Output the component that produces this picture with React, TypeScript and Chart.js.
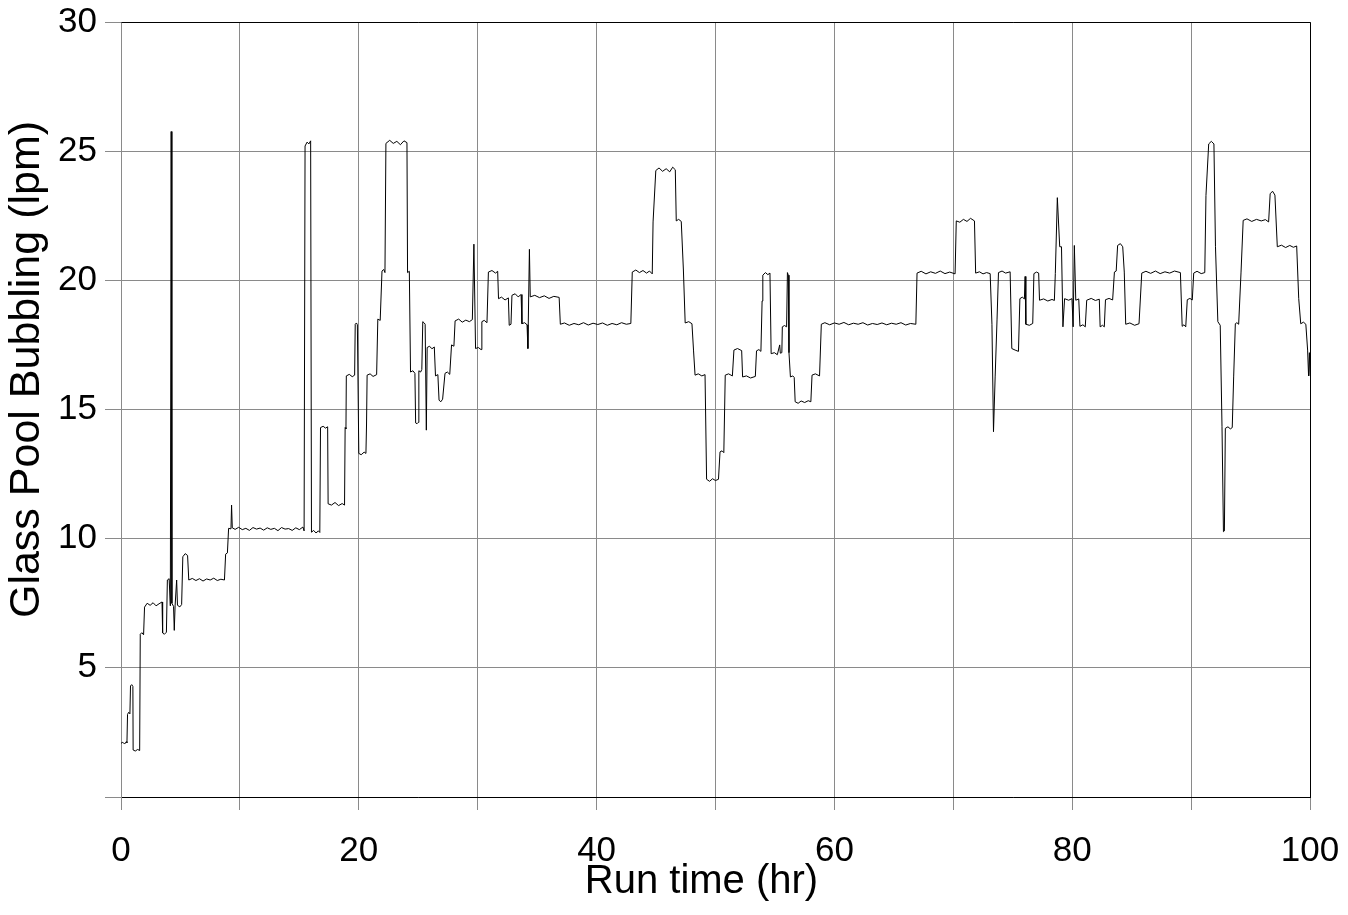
import React, { useEffect, useRef } from "react";
import { Chart, registerables } from "chart.js";

Chart.register(...registerables);

// [run time (hr), glass pool bubbling (lpm)]
const hours0to20: [number, number][] = [
  [0, 2.08], [0.15, 2.12], [0.3, 2.05], [0.45, 2.14], [0.5, 2.1],
  [0.55, 3.2], [0.65, 3.28], [0.75, 3.22],
  [0.8, 4.3], [0.9, 4.35], [1.0, 4.28],
  [1.02, 1.82], [1.2, 1.78], [1.4, 1.84], [1.57, 1.8],
  [1.62, 6.3], [1.75, 6.36], [1.9, 6.28],
  [1.98, 7.35], [2.2, 7.5], [2.45, 7.42], [2.7, 7.52], [2.95, 7.4], [3.2, 7.48], [3.45, 7.55],
  [3.5, 6.35], [3.65, 6.3], [3.82, 6.38],
  [3.9, 8.4], [4.05, 8.45], [4.15, 7.4], [4.22, 25.76], [4.28, 7.5], [4.42, 7.38], [4.48, 6.45],
  [4.55, 7.4], [4.68, 8.4], [4.75, 7.42], [4.95, 7.36], [5.1, 7.45],
  [5.2, 9.3], [5.4, 9.42], [5.6, 9.35],
  [5.7, 8.4], [6.0, 8.46], [6.3, 8.38], [6.6, 8.45], [6.9, 8.36], [7.2, 8.44], [7.5, 8.4],
  [7.8, 8.47], [8.1, 8.38], [8.4, 8.43], [8.7, 8.4],
  [8.8, 9.4], [8.95, 9.45],
  [9.05, 10.4], [9.25, 10.38], [9.3, 11.3], [9.36, 10.42], [9.6, 10.36], [9.9, 10.44],
  [10.2, 10.35], [10.5, 10.4], [10.8, 10.32], [11.1, 10.43], [11.4, 10.37], [11.7, 10.41],
  [12.0, 10.33], [12.3, 10.42], [12.6, 10.36], [12.9, 10.4], [13.2, 10.31], [13.5, 10.43],
  [13.8, 10.37], [14.1, 10.39], [14.4, 10.32], [14.7, 10.42], [15.0, 10.35], [15.3, 10.45], [15.4, 10.3],
  [15.48, 25.2], [15.65, 25.35], [15.8, 25.28], [15.95, 25.4],
  [16.02, 10.25], [16.2, 10.32], [16.4, 10.22], [16.6, 10.3], [16.72, 10.24],
  [16.78, 14.3], [17.0, 14.35], [17.2, 14.28], [17.38, 14.33],
  [17.42, 11.35], [17.7, 11.3], [18.0, 11.4], [18.3, 11.28], [18.6, 11.36], [18.8, 11.3],
  [18.85, 14.3], [18.92, 14.25],
  [18.95, 16.3], [19.2, 16.36], [19.45, 16.27], [19.65, 16.33],
  [19.7, 18.3], [19.8, 18.35], [19.88, 18.28],
];

const hours20to40: [number, number][] = [
  [20.0, 13.3], [20.2, 13.25], [20.45, 13.35], [20.6, 13.3],
  [20.65, 14.4],
  [20.7, 16.33], [20.95, 16.38], [21.2, 16.28], [21.5, 16.35],
  [21.6, 18.5], [21.8, 18.45],
  [21.95, 20.36], [22.1, 20.42], [22.2, 20.3],
  [22.28, 25.3], [22.6, 25.42], [22.9, 25.3], [23.2, 25.38], [23.5, 25.25], [23.8, 25.4], [24.05, 25.33],
  [24.1, 20.3], [24.25, 20.35],
  [24.35, 16.45], [24.55, 16.5], [24.72, 16.4],
  [24.78, 14.48], [24.9, 14.45], [25.0, 14.5],
  [25.05, 16.5], [25.2, 16.45], [25.3, 16.55],
  [25.38, 18.4], [25.5, 18.35], [25.58, 18.3],
  [25.68, 14.2],
  [25.75, 17.4], [25.95, 17.45], [26.15, 17.35], [26.35, 17.42],
  [26.45, 16.3], [26.65, 16.35],
  [26.75, 15.36], [26.9, 15.3], [27.05, 15.4],
  [27.25, 16.4], [27.45, 16.45], [27.65, 16.36],
  [27.8, 17.5], [28.0, 17.45],
  [28.1, 18.43], [28.4, 18.5], [28.7, 18.38], [29.0, 18.46], [29.3, 18.4], [29.55, 18.48],
  [29.68, 21.4],
  [29.82, 17.36], [30.05, 17.4], [30.28, 17.32],
  [30.35, 18.4], [30.55, 18.45], [30.78, 18.36],
  [30.9, 20.32], [31.2, 20.38], [31.5, 20.28], [31.68, 20.35],
  [31.75, 19.29], [32.0, 19.35], [32.3, 19.24], [32.58, 19.32],
  [32.65, 18.26], [32.8, 18.3],
  [32.88, 19.42], [33.15, 19.48], [33.4, 19.36], [33.65, 19.45],
  [33.72, 18.32], [33.95, 18.36], [34.15, 18.28], [34.22, 17.36],
  [34.35, 21.2],
  [34.42, 19.36], [34.8, 19.42], [35.2, 19.33], [35.6, 19.4], [36.0, 19.3], [36.4, 19.38], [36.85, 19.34],
  [36.95, 18.3], [37.3, 18.35], [37.7, 18.26], [38.1, 18.33], [38.5, 18.28], [38.9, 18.36],
  [39.3, 18.27], [39.7, 18.34],
];

const hours40to60: [number, number][] = [
  [40.1, 18.29], [40.5, 18.35], [40.9, 18.26], [41.3, 18.33], [41.7, 18.28], [42.1, 18.36], [42.5, 18.3], [42.88, 18.33],
  [43.0, 20.32], [43.3, 20.4], [43.6, 20.3], [43.9, 20.38], [44.2, 20.28], [44.45, 20.36], [44.68, 20.25],
  [44.75, 22.26],
  [44.98, 24.25], [45.25, 24.35], [45.55, 24.22], [45.85, 24.32], [46.15, 24.2], [46.4, 24.38], [46.62, 24.28],
  [46.7, 22.3], [46.9, 22.36], [47.12, 22.28],
  [47.3, 20.4],
  [47.45, 18.35], [47.75, 18.4], [48.02, 18.32],
  [48.15, 17.3],
  [48.28, 16.33], [48.55, 16.38], [48.85, 16.3], [49.12, 16.35],
  [49.25, 12.3], [49.5, 12.22], [49.75, 12.32], [50.0, 12.25], [50.25, 12.3],
  [50.38, 13.36], [50.55, 13.4], [50.7, 13.33],
  [50.82, 16.33], [51.1, 16.38], [51.42, 16.3],
  [51.55, 17.3], [51.85, 17.36], [52.2, 17.28],
  [52.28, 16.26], [52.6, 16.3], [52.95, 16.22], [53.35, 16.28],
  [53.45, 17.27], [53.65, 17.32], [53.82, 17.25],
  [53.92, 19.2], [53.98, 20.2], [54.2, 20.3], [54.4, 20.22], [54.58, 20.28],
  [54.68, 17.16], [54.95, 17.2], [55.2, 17.12], [55.4, 17.5], [55.45, 17.18], [55.58, 17.2],
  [55.62, 18.2], [55.8, 18.25], [55.98, 18.2],
  [56.05, 20.3], [56.12, 20.2],
  [56.18, 17.2],
  [56.3, 16.26], [56.5, 16.3], [56.62, 16.24],
  [56.7, 15.3], [56.95, 15.24], [57.2, 15.33], [57.5, 15.27], [57.8, 15.34], [58.02, 15.3],
  [58.12, 16.33], [58.4, 16.38], [58.75, 16.3],
  [58.9, 18.3], [59.2, 18.36], [59.6, 18.28],
];

const hours60to80: [number, number][] = [
  [60.0, 18.35], [60.4, 18.3], [60.8, 18.37], [61.2, 18.28], [61.6, 18.34], [62.0, 18.3], [62.4, 18.36],
  [62.8, 18.27], [63.2, 18.33], [63.6, 18.29], [64.0, 18.35], [64.4, 18.28], [64.8, 18.34], [65.2, 18.3],
  [65.6, 18.36], [66.0, 18.27], [66.4, 18.33], [66.85, 18.3],
  [66.95, 20.28], [67.3, 20.35], [67.7, 20.25], [68.1, 20.33], [68.5, 20.27], [68.9, 20.36], [69.3, 20.26],
  [69.7, 20.32], [70.15, 20.25],
  [70.25, 22.3], [70.55, 22.25], [70.85, 22.36], [71.15, 22.28], [71.45, 22.4], [71.78, 22.3],
  [71.88, 20.28], [72.2, 20.33], [72.5, 20.25], [72.8, 20.3], [73.1, 20.26],
  [73.25, 18.3], [73.38, 14.14], [73.52, 16.26], [73.68, 18.5],
  [73.8, 20.3], [74.1, 20.36], [74.4, 20.28], [74.78, 20.33],
  [74.92, 17.36], [75.2, 17.3], [75.48, 17.25],
  [75.6, 19.29], [75.8, 19.35], [75.98, 19.28], [76.04, 20.15],
  [76.1, 18.3], [76.4, 18.26], [76.68, 18.33],
  [76.78, 20.26], [77.0, 20.32], [77.18, 20.28],
  [77.25, 19.23], [77.6, 19.28], [77.95, 19.2], [78.3, 19.26], [78.5, 19.22],
  [78.58, 20.26], [78.75, 23.2], [78.95, 21.3], [79.1, 21.3], [79.22, 18.2],
  [79.36, 19.29], [79.7, 19.23], [79.98, 19.29],
];

const hours80to100: [number, number][] = [
  [80.08, 18.2], [80.18, 21.35], [80.3, 19.23], [80.55, 19.28],
  [80.65, 18.22], [80.9, 18.28], [81.1, 18.2],
  [81.22, 19.23], [81.6, 19.3], [81.95, 19.22], [82.28, 19.27],
  [82.35, 18.2], [82.55, 18.26], [82.7, 18.2],
  [82.8, 19.25], [83.1, 19.3], [83.4, 19.24],
  [83.55, 20.32], [83.7, 20.36],
  [83.82, 21.35], [84.05, 21.42], [84.25, 21.3],
  [84.38, 20.32],
  [84.5, 18.3], [84.85, 18.35], [85.25, 18.26], [85.62, 18.32],
  [85.85, 20.28], [86.2, 20.35], [86.6, 20.27], [87.0, 20.36], [87.4, 20.26], [87.8, 20.33], [88.2, 20.28],
  [88.6, 20.36], [89.1, 20.3],
  [89.25, 18.22], [89.4, 18.28], [89.55, 18.2],
  [89.68, 19.25], [89.9, 19.3], [90.1, 19.24],
  [90.22, 20.28], [90.5, 20.35], [90.85, 20.26], [91.15, 20.3],
  [91.25, 23.28], [91.48, 25.28], [91.7, 25.38], [91.92, 25.28],
  [92.05, 21.3], [92.25, 18.4], [92.45, 18.26], [92.6, 14.33], [92.72, 10.27], [92.8, 10.3],
  [92.88, 14.27], [93.1, 14.33], [93.3, 14.25], [93.46, 14.3],
  [93.58, 16.26], [93.72, 18.32], [93.85, 18.36], [94.0, 18.3],
  [94.2, 20.32], [94.38, 22.32], [94.7, 22.38], [95.1, 22.28], [95.5, 22.36], [95.9, 22.3], [96.25, 22.35], [96.52, 22.26],
  [96.65, 23.35], [96.85, 23.45], [97.05, 23.3],
  [97.25, 21.3], [97.6, 21.36], [97.95, 21.27], [98.3, 21.35], [98.6, 21.28], [98.88, 21.33],
  [99.05, 19.3], [99.22, 18.32], [99.45, 18.38], [99.65, 18.3],
  [99.8, 17.3], [99.88, 16.3], [99.95, 17.2], [100, 16.3],
];

const xTickLabels = [0, 20, 40, 60, 80, 100];
const yTickLabels = [5, 10, 15, 20, 25, 30];
const xTitle = "Run time (hr)";
const yTitle = "Glass Pool Bubbling (lpm)";

const FONT = '"Liberation Sans", Arial, sans-serif';
const GRID = "#8a8a8a";

const framePlugin = {
  id: "frameAndTitles",
  afterDatasetsDraw(chart: any) {
    const { ctx, chartArea } = chart;
    const l = Math.round(chartArea.left) + 0.5;
    const r = Math.round(chartArea.right) + 0.5;
    const t = Math.round(chartArea.top) + 0.5;
    const b = Math.round(chartArea.bottom) + 0.5;
    ctx.save();
    ctx.strokeStyle = "#000";
    ctx.lineWidth = 1;
    ctx.beginPath();
    ctx.moveTo(l, t);
    ctx.lineTo(r, t);
    ctx.lineTo(r, b);
    ctx.stroke();
    ctx.restore();
  },
  afterDraw(chart: any) {
    const { ctx, chartArea } = chart;
    ctx.save();
    ctx.fillStyle = "#000";
    ctx.textAlign = "center";
    ctx.textBaseline = "middle";
    ctx.font = `40px ${FONT}`;
    ctx.fillText(xTitle, (chartArea.left + chartArea.right) / 2 - 14, chartArea.bottom + 85);
    ctx.translate(chartArea.left - 94, (chartArea.top + chartArea.bottom) / 2 - 40);
    ctx.rotate(-Math.PI / 2);
    ctx.font = `43px ${FONT}`;
    ctx.fillText(yTitle, 0, 0);
    ctx.restore();
  },
};

export default function App() {
  const ref = useRef<HTMLCanvasElement | null>(null);

  useEffect(() => {
    if (!ref.current) return;
    const points = [...hours0to20, ...hours20to40, ...hours40to60, ...hours60to80, ...hours80to100].map(
      ([x, y]) => ({ x, y })
    );
    const chart = new Chart(ref.current, {
      type: "line",
      data: {
        datasets: [
          {
            data: points,
            borderColor: "#000",
            borderWidth: 1,
            pointRadius: 0,
            fill: false,
            tension: 0,
          },
        ],
      },
      options: {
        responsive: false,
        animation: false,
        devicePixelRatio: 1,
        layout: { padding: { top: 22, right: 38, left: 0, bottom: 0 } },
        plugins: { legend: { display: false }, tooltip: { enabled: false } },
        scales: {
          x: {
            type: "linear",
            min: 0,
            max: 100,
            afterFit: (s: any) => {
              s.height = 118;
              s.paddingLeft = 0;
              s.paddingRight = 0;
            },
            ticks: {
              stepSize: 10,
              autoSkip: false,
              maxRotation: 0,
              padding: 20,
              color: "#000",
              font: { family: FONT, size: 35 },
              callback: (v: any) => (xTickLabels.includes(Number(v)) ? String(v) : ""),
            },
            grid: { color: GRID, tickColor: GRID, tickLength: 13, lineWidth: 1 },
            border: { display: true, color: "#000" },
          },
          y: {
            min: 0,
            max: 30,
            afterFit: (s: any) => {
              s.width = 121;
              s.paddingTop = 0;
              s.paddingBottom = 0;
            },
            ticks: {
              stepSize: 5,
              padding: 8,
              color: "#000",
              font: { family: FONT, size: 35 },
              callback: (v: any) => (yTickLabels.includes(Number(v)) ? String(v) : ""),
            },
            grid: { color: GRID, tickColor: GRID, tickLength: 16, lineWidth: 1 },
            border: { display: true, color: GRID },
          },
        },
      },
      plugins: [framePlugin],
    });
    return () => chart.destroy();
  }, []);

  return (
    <div style={{ position: "fixed", left: 0, top: 0, width: 1348, height: 915, background: "#fff" }}>
      <canvas ref={ref} width={1348} height={915} style={{ display: "block", width: 1348, height: 915 }} />
    </div>
  );
}
